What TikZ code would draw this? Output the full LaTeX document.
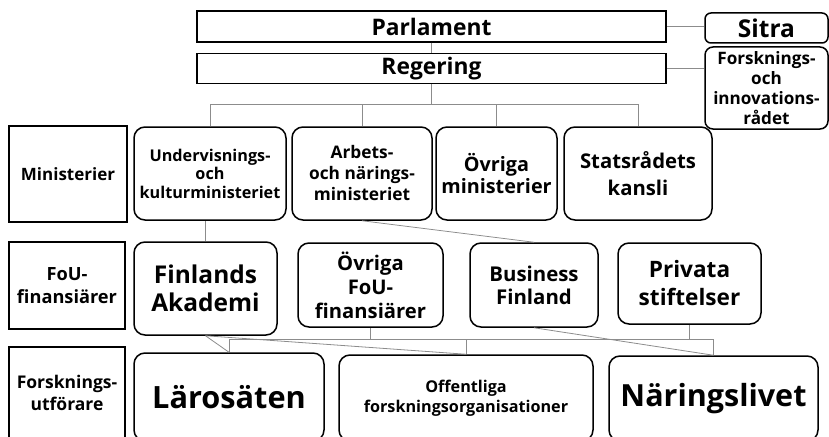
\documentclass[tikz,border=0pt]{standalone}
\usepackage{fontspec}
\setmainfont{Open Sans}
\usepackage{tikz}
\usetikzlibrary{positioning}
\newcommand{\fsz}[2]{\fontsize{#1}{#2}\selectfont}

\begin{document}
\begin{tikzpicture}[x=1pt, y=-1pt,
  box/.style={draw, line width=1.5pt, rectangle, align=center, inner sep=1pt, font=\bfseries},
  unit/.style={box, rounded corners=11pt},
  link/.style={draw=black!45, line width=0.8pt}]
\clip (0,0) rectangle (829,436);
% top level
\node[box, minimum width=469pt, minimum height=31pt, font=\bfseries\fsz{22.8}{26}] (parl) at (431.5,26.5) {Parlament};
\node[box, minimum width=469pt, minimum height=30pt, below=10pt of parl, font=\bfseries\fsz{22.8}{26}] (reg) {Regering};
\node[unit, rounded corners=6pt, minimum width=123pt, minimum height=30pt, font=\bfseries\fsz{24.5}{26}] (sitra) at (766.5,28) {Sitra};
\node[unit, rounded corners=8pt, minimum width=123pt, minimum height=82pt, font=\bfseries\fsz{17.1}{20}] (forsk) at (766.5,88) {Forsknings-\\och\\innovations-\\rådet};
% ministries
\node[box, minimum width=118pt, minimum height=96pt, font=\bfseries\fsz{17}{18}] (min) at (68,174) {Ministerier};
\node[unit, minimum width=152pt, minimum height=93pt, font=\bfseries\fsz{16.2}{18.5}] (uk) at (210,173.5) {Undervisnings-\\och\\kulturministeriet};
\node[unit, minimum width=140pt, minimum height=93pt, font=\bfseries\fsz{17.3}{21}] (an) at (362,173.5) {Arbets-\\och närings-\\ministeriet};
\node[unit, minimum width=121pt, minimum height=93pt, font=\bfseries\fsz{19.8}{22}] (ov) at (496.5,173.5) {Övriga\\ministerier};
\node[unit, minimum width=148pt, minimum height=93pt, font=\bfseries\fsz{20.3}{27}] (sk) at (638,173.5) {Statsrådets\\kansli};
% funders
\node[box, minimum width=116pt, minimum height=87pt, font=\bfseries\fsz{18.2}{23}] (fou) at (67,285.5) {FoU-\\finansiärer};
\node[unit, minimum width=143pt, minimum height=93pt, font=\bfseries\fsz{24.5}{28}] (fa) at (205.5,288.5) {Finlands\\Akademi};
\node[unit, minimum width=145pt, minimum height=84pt, font=\bfseries\fsz{20.2}{24}] (ovf) at (370.5,285) {Övriga\\FoU-\\finansiärer};
\node[unit, minimum width=128pt, minimum height=84pt, font=\bfseries\fsz{20.4}{23}] (bf) at (534,285) {Business\\Finland};
\node[unit, minimum width=143pt, minimum height=81pt, font=\bfseries\fsz{22.6}{28}] (ps) at (689.5,283.5) {Privata\\stiftelser};
% performers
\node[box, minimum width=116pt, minimum height=92pt, font=\bfseries\fsz{17.5}{22}] (fu) at (67,393) {Forsknings-\\utförare};
\node[unit, minimum width=190pt, minimum height=88pt, font=\bfseries\fsz{30.7}{32}] (ls) at (229,397) {Lärosäten};
\node[unit, minimum width=254pt, minimum height=86pt, font=\bfseries\fsz{16.2}{20}] (of) at (466,398) {Offentliga\\forskningsorganisationer};
\node[unit, minimum width=209pt, minimum height=85pt, font=\bfseries\fsz{30.5}{32}] (nl) at (713.5,398.5) {Näringslivet};
% connectors
\coordinate (mbus) at (0,104);
\coordinate (rbus) at (0,339);
\draw[link] (parl) -- (reg);
\draw[link] (parl.east) -- (parl.east -| sitra.west);
\draw[link] (reg.east) -- (reg.east -| forsk.west);
\draw[link] (reg.south) -- (reg.south |- mbus);
\draw[link] (uk.north) -- (uk.north |- mbus) -- (sk.north |- mbus) -- (sk.north);
\foreach \n in {an,ov} \draw[link] (\n.north) -- (\n.north |- mbus);
\draw[link] (fa.north) -- (fa.north |- uk.south);
\draw[link] (an.south) -- (bf.north);
\draw[link] (ls.north) -- (ls.north |- rbus) -- (nl.north |- rbus) -- (nl.north);
\foreach \n in {ovf,ps} \draw[link] (\n.south) -- (\n.south |- rbus);
\draw[link] (of.north) -- (of.north |- rbus);
\draw[link] (fa.south) -- (ls.north);
\draw[link] (fa.south) -- (of.north);
\draw[link] (bf.south) -- (nl.north);
\end{tikzpicture}
\end{document}
